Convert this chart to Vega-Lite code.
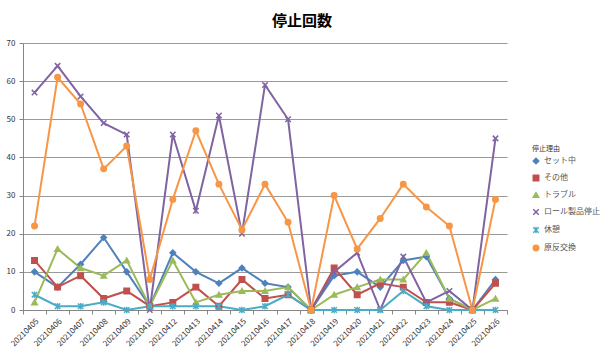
{
  "$schema": "https://vega.github.io/schema/vega-lite/v6.json",
  "autosize": {"type": "none"},
  "width": 484,
  "height": 267,
  "padding": {"left": 23, "top": 43, "right": 108, "bottom": 53},
  "background": "white",
  "title": {"text": "停止回数", "font": "Noto Sans CJK JP", "fontSize": 15, "fontWeight": "bold", "color": "#000000", "anchor": "middle", "dx": 37, "offset": 10},
  "datasets": {
    "raw": [
      {"d": "20210405", "s": "セット中", "v": 10}, {"d": "20210406", "s": "セット中", "v": 6}, {"d": "20210407", "s": "セット中", "v": 12}, {"d": "20210408", "s": "セット中", "v": 19}, {"d": "20210409", "s": "セット中", "v": 10}, {"d": "20210410", "s": "セット中", "v": 1}, {"d": "20210412", "s": "セット中", "v": 15}, {"d": "20210413", "s": "セット中", "v": 10}, {"d": "20210414", "s": "セット中", "v": 7}, {"d": "20210415", "s": "セット中", "v": 11}, {"d": "20210416", "s": "セット中", "v": 7}, {"d": "20210417", "s": "セット中", "v": 6}, {"d": "20210418", "s": "セット中", "v": 0}, {"d": "20210419", "s": "セット中", "v": 9}, {"d": "20210420", "s": "セット中", "v": 10}, {"d": "20210421", "s": "セット中", "v": 6}, {"d": "20210422", "s": "セット中", "v": 13}, {"d": "20210423", "s": "セット中", "v": 14}, {"d": "20210424", "s": "セット中", "v": 3}, {"d": "20210425", "s": "セット中", "v": 0}, {"d": "20210426", "s": "セット中", "v": 8},
      {"d": "20210405", "s": "その他", "v": 13}, {"d": "20210406", "s": "その他", "v": 6}, {"d": "20210407", "s": "その他", "v": 9}, {"d": "20210408", "s": "その他", "v": 3}, {"d": "20210409", "s": "その他", "v": 5}, {"d": "20210410", "s": "その他", "v": 1}, {"d": "20210412", "s": "その他", "v": 2}, {"d": "20210413", "s": "その他", "v": 6}, {"d": "20210414", "s": "その他", "v": 1}, {"d": "20210415", "s": "その他", "v": 8}, {"d": "20210416", "s": "その他", "v": 3}, {"d": "20210417", "s": "その他", "v": 4}, {"d": "20210418", "s": "その他", "v": 0}, {"d": "20210419", "s": "その他", "v": 11}, {"d": "20210420", "s": "その他", "v": 4}, {"d": "20210421", "s": "その他", "v": 7}, {"d": "20210422", "s": "その他", "v": 6}, {"d": "20210423", "s": "その他", "v": 2}, {"d": "20210424", "s": "その他", "v": 2}, {"d": "20210425", "s": "その他", "v": 0}, {"d": "20210426", "s": "その他", "v": 7},
      {"d": "20210405", "s": "トラブル", "v": 2}, {"d": "20210406", "s": "トラブル", "v": 16}, {"d": "20210407", "s": "トラブル", "v": 11}, {"d": "20210408", "s": "トラブル", "v": 9}, {"d": "20210409", "s": "トラブル", "v": 13}, {"d": "20210410", "s": "トラブル", "v": 1}, {"d": "20210412", "s": "トラブル", "v": 13}, {"d": "20210413", "s": "トラブル", "v": 2}, {"d": "20210414", "s": "トラブル", "v": 4}, {"d": "20210415", "s": "トラブル", "v": 5}, {"d": "20210416", "s": "トラブル", "v": 5}, {"d": "20210417", "s": "トラブル", "v": 6}, {"d": "20210418", "s": "トラブル", "v": 0}, {"d": "20210419", "s": "トラブル", "v": 4}, {"d": "20210420", "s": "トラブル", "v": 6}, {"d": "20210421", "s": "トラブル", "v": 8}, {"d": "20210422", "s": "トラブル", "v": 8}, {"d": "20210423", "s": "トラブル", "v": 15}, {"d": "20210424", "s": "トラブル", "v": 3}, {"d": "20210425", "s": "トラブル", "v": 0}, {"d": "20210426", "s": "トラブル", "v": 3},
      {"d": "20210405", "s": "ロール製品停止", "v": 57}, {"d": "20210406", "s": "ロール製品停止", "v": 64}, {"d": "20210407", "s": "ロール製品停止", "v": 56}, {"d": "20210408", "s": "ロール製品停止", "v": 49}, {"d": "20210409", "s": "ロール製品停止", "v": 46}, {"d": "20210410", "s": "ロール製品停止", "v": 0}, {"d": "20210412", "s": "ロール製品停止", "v": 46}, {"d": "20210413", "s": "ロール製品停止", "v": 26}, {"d": "20210414", "s": "ロール製品停止", "v": 51}, {"d": "20210415", "s": "ロール製品停止", "v": 20}, {"d": "20210416", "s": "ロール製品停止", "v": 59}, {"d": "20210417", "s": "ロール製品停止", "v": 50}, {"d": "20210418", "s": "ロール製品停止", "v": 0}, {"d": "20210419", "s": "ロール製品停止", "v": 10}, {"d": "20210420", "s": "ロール製品停止", "v": 15}, {"d": "20210421", "s": "ロール製品停止", "v": 0}, {"d": "20210422", "s": "ロール製品停止", "v": 14}, {"d": "20210423", "s": "ロール製品停止", "v": 2}, {"d": "20210424", "s": "ロール製品停止", "v": 5}, {"d": "20210425", "s": "ロール製品停止", "v": 0}, {"d": "20210426", "s": "ロール製品停止", "v": 45},
      {"d": "20210405", "s": "休憩", "v": 4}, {"d": "20210406", "s": "休憩", "v": 1}, {"d": "20210407", "s": "休憩", "v": 1}, {"d": "20210408", "s": "休憩", "v": 2}, {"d": "20210409", "s": "休憩", "v": 0}, {"d": "20210410", "s": "休憩", "v": 1}, {"d": "20210412", "s": "休憩", "v": 1}, {"d": "20210413", "s": "休憩", "v": 1}, {"d": "20210414", "s": "休憩", "v": 1}, {"d": "20210415", "s": "休憩", "v": 0}, {"d": "20210416", "s": "休憩", "v": 1}, {"d": "20210417", "s": "休憩", "v": 4}, {"d": "20210418", "s": "休憩", "v": 0}, {"d": "20210419", "s": "休憩", "v": 0}, {"d": "20210420", "s": "休憩", "v": 0}, {"d": "20210421", "s": "休憩", "v": 0}, {"d": "20210422", "s": "休憩", "v": 5}, {"d": "20210423", "s": "休憩", "v": 1}, {"d": "20210424", "s": "休憩", "v": 0}, {"d": "20210425", "s": "休憩", "v": 0}, {"d": "20210426", "s": "休憩", "v": 0},
      {"d": "20210405", "s": "原反交換", "v": 22}, {"d": "20210406", "s": "原反交換", "v": 61}, {"d": "20210407", "s": "原反交換", "v": 54}, {"d": "20210408", "s": "原反交換", "v": 37}, {"d": "20210409", "s": "原反交換", "v": 43}, {"d": "20210410", "s": "原反交換", "v": 8}, {"d": "20210412", "s": "原反交換", "v": 29}, {"d": "20210413", "s": "原反交換", "v": 47}, {"d": "20210414", "s": "原反交換", "v": 33}, {"d": "20210415", "s": "原反交換", "v": 21}, {"d": "20210416", "s": "原反交換", "v": 33}, {"d": "20210417", "s": "原反交換", "v": 23}, {"d": "20210418", "s": "原反交換", "v": 0}, {"d": "20210419", "s": "原反交換", "v": 30}, {"d": "20210420", "s": "原反交換", "v": 16}, {"d": "20210421", "s": "原反交換", "v": 24}, {"d": "20210422", "s": "原反交換", "v": 33}, {"d": "20210423", "s": "原反交換", "v": 27}, {"d": "20210424", "s": "原反交換", "v": 22}, {"d": "20210425", "s": "原反交換", "v": 0}, {"d": "20210426", "s": "原反交換", "v": 29}
    ]
  },
  "data": {"name": "raw"},
  "encoding": {
    "x": {
      "field": "d", "type": "nominal", "bandPosition": 0.5,
      "scale": {"type": "band", "paddingInner": 0, "paddingOuter": 0},
      "axis": {"title": null, "labelAngle": -45, "labelAlign": "right", "labelBaseline": "top", "labelFont": "Noto Sans CJK JP", "labelFontSize": 8, "labelColor": "#333333", "labelPadding": 3, "tickBand": "extent", "tickSize": 4, "tickColor": "#868686", "domainColor": "#868686", "grid": false, "labelOverlap": false}
    },
    "y": {
      "field": "v", "type": "quantitative",
      "scale": {"domain": [0, 70], "nice": false},
      "axis": {"title": null, "values": [0, 10, 20, 30, 40, 50, 60, 70], "labelFont": "Noto Sans CJK JP", "labelFontSize": 8, "labelColor": "#333333", "labelPadding": 4, "tickSize": 4, "tickColor": "#868686", "domainColor": "#868686", "gridColor": "#9a9a9a", "gridWidth": 1}
    },
    "color": {
      "field": "s", "type": "nominal",
      "sort": ["セット中", "その他", "トラブル", "ロール製品停止", "休憩", "原反交換"],
      "scale": {"domain": ["セット中", "その他", "トラブル", "ロール製品停止", "休憩", "原反交換"], "range": ["#4F81BD", "#C0504D", "#9BBB59", "#8064A2", "#4BACC6", "#F79646"]},
      "legend": {"title": "停止理由", "orient": "none", "legendX": 509, "legendY": 102, "titleFont": "Noto Sans CJK JP", "titleFontSize": 7, "titleFontWeight": "normal", "titleColor": "#333333", "labelFont": "Noto Sans CJK JP", "labelFontSize": 8, "labelColor": "#555555", "rowPadding": 5, "symbolSize": 30, "symbolStrokeWidth": 1.5, "titlePadding": 5}
    }
  },
  "layer": [
    {
      "mark": {"type": "line", "strokeWidth": 2},
      "encoding": {"detail": {"field": "s"}, "order": {"field": "d"}}
    },
    {
      "mark": {"type": "point", "filled": true, "size": 30, "strokeWidth": 1.5, "opacity": 1},
      "encoding": {
        "stroke": {"field": "s", "type": "nominal", "scale": {"domain": ["セット中", "その他", "トラブル", "ロール製品停止", "休憩", "原反交換"], "range": ["#4F81BD", "#C0504D", "#9BBB59", "#8064A2", "#4BACC6", "#F79646"]}, "legend": null},
        "shape": {
          "field": "s", "type": "nominal",
          "scale": {"domain": ["セット中", "その他", "トラブル", "ロール製品停止", "休憩", "原反交換"], "range": ["diamond", "square", "triangle-up", "M-1,-1L1,1M1,-1L-1,1", "M-1,-1L1,1M1,-1L-1,1M0,-1.2L0,1.2", "circle"]},
          "legend": null
        }
      }
    }
  ],
  "config": {"view": {"stroke": null}, "font": "Noto Sans CJK JP"}
}
